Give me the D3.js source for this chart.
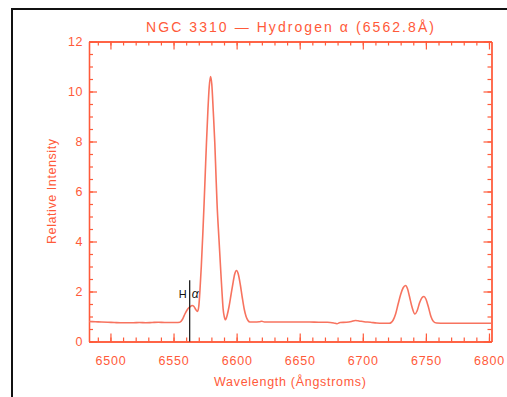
<!DOCTYPE html>
<html>
<head>
<meta charset="utf-8">
<script src="https://cdn.jsdelivr.net/npm/d3@7"></script>
<style>
html, body { margin: 0; padding: 0; background: #fff; }
svg { display: block; }
</style>
</head>
<body>
<svg id="chart" width="507" height="397"></svg>
<script>
// ---- data ----
const wavelength = [6483, 6488, 6493, 6498, 6503, 6508, 6513, 6518, 6523, 6528, 6533, 6538, 6543, 6548, 6552,
  6555, 6557, 6559, 6561, 6563, 6564.7, 6566.2, 6567.6, 6569, 6570, 6571, 6572, 6573.2, 6574.2, 6575.2, 6576.1, 6577.2,
  6578.3, 6579.3, 6580.3, 6581.5, 6582.7, 6583.6, 6584.5, 6586, 6587.5, 6588.5, 6589.3, 6590.2, 6591.2, 6592.5,
  6594, 6595.5, 6597, 6598.5, 6599.9, 6601.3, 6603, 6604.5, 6606, 6607.5, 6609, 6610.5, 6614, 6618, 6620, 6622,
  6628, 6635, 6642, 6650, 6658, 6665, 6672, 6677, 6679.5, 6682, 6687, 6691, 6694, 6697, 6701, 6706, 6711, 6716,
  6721, 6722.5, 6724, 6726, 6728, 6730, 6732, 6733.9, 6735.5, 6737, 6739, 6741.3, 6743, 6745, 6747, 6748.5,
  6750, 6752, 6754, 6756, 6758.5, 6765, 6772, 6780, 6788, 6795, 6802];
const intensity = [0.80, 0.79, 0.78, 0.77, 0.76, 0.75, 0.75, 0.75, 0.76, 0.75, 0.76, 0.77, 0.76, 0.76, 0.76,
  0.77, 0.88, 1.10, 1.28, 1.38, 1.44, 1.40, 1.28, 1.20, 1.40, 2.10, 3.00, 4.30, 5.50, 6.80, 7.95, 9.20,
  10.20, 10.60, 10.30, 9.20, 7.95, 6.70, 5.50, 4.10, 2.75, 1.90, 1.30, 1.00, 0.87, 1.05,
  1.40, 1.85, 2.30, 2.70, 2.84, 2.70, 2.25, 1.75, 1.30, 1.00, 0.84, 0.78, 0.78, 0.79, 0.81, 0.78,
  0.78, 0.78, 0.78, 0.78, 0.78, 0.77, 0.77, 0.74, 0.71, 0.76, 0.77, 0.80, 0.84, 0.82, 0.79, 0.77, 0.74, 0.73,
  0.73, 0.76, 0.85, 1.10, 1.50, 1.88, 2.15, 2.24, 2.10, 1.80, 1.38, 1.10, 1.22, 1.55, 1.76, 1.80,
  1.70, 1.38, 1.00, 0.80, 0.74, 0.73, 0.73, 0.73, 0.73, 0.73, 0.73];
const xTickValues = [6500, 6550, 6600, 6650, 6700, 6750, 6800];
const xMinorValues = d3.range(6490, 6801, 10);
const yTickValues = [0, 2, 4, 6, 8, 10, 12];
const yMinorValues = d3.range(0, 12.01, 0.5);
const lineMarker = [6562.8];
const titleText = "NGC 3310 \u2014 Hydrogen \u03b1 (6562.8\u00c5)";
const xLabelText = "Wavelength (\u00c5ngstroms)";
const yLabelText = "Relative Intensity";

// ---- layout ----
const W = 507, H = 397;
const mLeft = 89, mRight = 491.5, mTop = 41.5, mBottom = 341.5;
const axisColor = "#ff5a3a";
const lineColor = "#f7735f";
const fontFam = "'Liberation Sans', Arial, sans-serif";

const svg = d3.select("#chart");

// outer black frame (partially visible)
svg.append("path")
  .attr("d", `M12,${H} V9 H${W}`)
  .attr("fill", "none").attr("stroke", "#111").attr("stroke-width", 2);

const x = d3.scaleLinear().domain([6483, 6802]).range([mLeft, mRight]);
const y = d3.scaleLinear().domain([0, 12]).range([mBottom, mTop]);

function styleAxis(g) {
  g.selectAll("path.domain").attr("stroke", axisColor).attr("stroke-width", 1.3);
  g.selectAll(".tick line").attr("stroke", axisColor).attr("stroke-width", 1.2);
  g.selectAll(".tick text").attr("fill", axisColor)
    .style("font-family", fontFam).style("font-size", "12.5px");
}

// minor ticks
svg.append("g").attr("transform", `translate(0,${mBottom})`)
  .call(d3.axisBottom(x).tickValues(xMinorValues).tickSize(-4).tickSizeOuter(0).tickFormat(""))
  .call(styleAxis);
svg.append("g").attr("transform", `translate(0,${mTop})`)
  .call(d3.axisTop(x).tickValues(xMinorValues).tickSize(-4).tickSizeOuter(0).tickFormat(""))
  .call(styleAxis);
svg.append("g").attr("transform", `translate(${mLeft},0)`)
  .call(d3.axisLeft(y).tickValues(yMinorValues).tickSize(-4).tickSizeOuter(0).tickFormat(""))
  .call(styleAxis);
svg.append("g").attr("transform", `translate(${mRight},0)`)
  .call(d3.axisRight(y).tickValues(yMinorValues).tickSize(-4).tickSizeOuter(0).tickFormat(""))
  .call(styleAxis);

// major ticks
const xAxisB = svg.append("g").attr("transform", `translate(0,${mBottom})`)
  .call(d3.axisBottom(x).tickValues(xTickValues).tickSize(-8).tickSizeOuter(0).tickFormat(d3.format("d")))
  .call(styleAxis);
xAxisB.selectAll(".tick text").attr("letter-spacing", "0.8px").attr("y", 14).attr("dy", "0.72em");
svg.append("g").attr("transform", `translate(0,${mTop})`)
  .call(d3.axisTop(x).tickValues(xTickValues).tickSize(-8).tickSizeOuter(0).tickFormat(""))
  .call(styleAxis);
const yAxisL = svg.append("g").attr("transform", `translate(${mLeft},0)`)
  .call(d3.axisLeft(y).tickValues(yTickValues).tickSize(-8).tickSizeOuter(0).tickFormat(d3.format("d")))
  .call(styleAxis);
yAxisL.selectAll(".tick text").attr("x", -6).attr("letter-spacing", "0.5px");
svg.append("g").attr("transform", `translate(${mRight},0)`)
  .call(d3.axisRight(y).tickValues(yTickValues).tickSize(-8).tickSizeOuter(0).tickFormat(""))
  .call(styleAxis);

// spectrum line
const pts = wavelength.map((w, i) => [w, intensity[i]]);
svg.append("path")
  .datum(pts)
  .attr("fill", "none")
  .attr("stroke", lineColor)
  .attr("stroke-width", 1.6)
  .attr("stroke-linejoin", "round")
  .attr("d", d3.line().x(d => x(d[0])).y(d => y(d[1])).curve(d3.curveMonotoneX));

// H-alpha marker
const mk = svg.append("g");
mk.selectAll("line").data(lineMarker).join("line")
  .attr("x1", d => x(d)).attr("x2", d => x(d))
  .attr("y1", y(2.45)).attr("y2", mBottom)
  .attr("stroke", "#111").attr("stroke-width", 1.2);
mk.selectAll("text.h").data(lineMarker).join("text").attr("class", "h")
  .attr("x", d => x(d) - 3).attr("y", 298)
  .attr("text-anchor", "end").attr("fill", "#111")
  .style("font-family", fontFam).style("font-size", "11px").text("H");
mk.selectAll("text.a").data(lineMarker).join("text").attr("class", "a")
  .attr("x", d => x(d) + 2).attr("y", 298)
  .attr("text-anchor", "start").attr("fill", "#111")
  .style("font-family", fontFam).style("font-size", "12px").style("font-style", "italic").text("\u03b1");

// title
svg.append("text")
  .attr("x", 290).attr("y", 31.5)
  .attr("text-anchor", "middle").attr("fill", axisColor)
  .attr("textLength", 288).attr("lengthAdjust", "spacing")
  .style("font-family", fontFam).style("font-size", "14px")
  .text(titleText);

// x label
svg.append("text")
  .attr("x", 290).attr("y", 386)
  .attr("text-anchor", "middle").attr("fill", axisColor)
  .attr("textLength", 152).attr("lengthAdjust", "spacing")
  .style("font-family", fontFam).style("font-size", "12.5px")
  .text(xLabelText);

// y label
svg.append("text")
  .attr("transform", `translate(56,${(mTop + mBottom) / 2}) rotate(-90)`)
  .attr("text-anchor", "middle").attr("fill", axisColor)
  .attr("textLength", 105).attr("lengthAdjust", "spacing")
  .style("font-family", fontFam).style("font-size", "12.5px")
  .text(yLabelText);
</script>
</body>
</html>
